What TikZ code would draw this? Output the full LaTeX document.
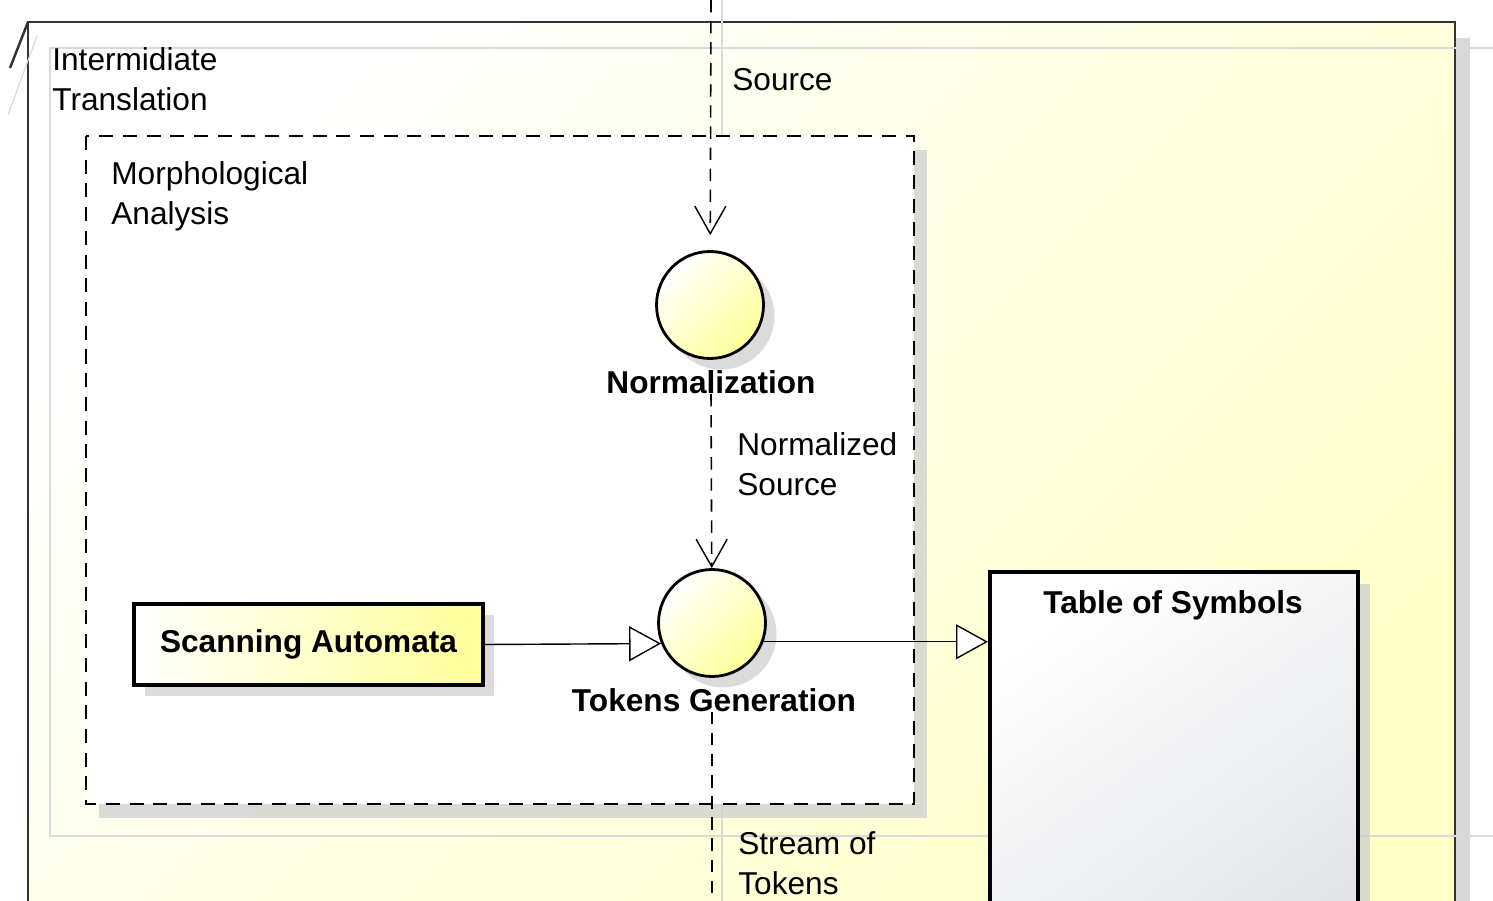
\documentclass[tikz,border=0pt]{standalone}
\usepackage{fontspec}
\setmainfont{Liberation Sans}
\usetikzlibrary{arrows.meta,shadows}

\definecolor{framefill}{HTML}{FFFFC8}
\definecolor{caseyellow}{HTML}{FFFF99}
\definecolor{tablegray}{HTML}{E2E4E7}
\definecolor{ghostgray}{HTML}{DADADA}

\begin{document}
\begin{tikzpicture}[x=0.02cm, y=-0.02cm,
		every node/.style={font=\fontsize{18}{22.8}\selectfont, inner sep=0pt},
		boldlbl/.style={font=\fontsize{18}{22.8}\selectfont\bfseries},
		softshadow/.style={drop shadow={shadow xshift=0.22cm, shadow yshift=-0.22cm, fill=black!20, opacity=0.7}},
		usecase/.style={circle, draw, line width=1.6pt, minimum size=2.14cm, top color=white, bottom color=caseyellow, shading angle=45, softshadow},
		flow/.style={dashed, dash pattern=on 7pt off 5pt, line width=0.9pt, -{Straight Barb[length=0.55cm, width=0.62cm, line width=0.8pt]}},
		assoc/.style={line width=0.8pt, -{Triangle[length=0.64cm, width=0.7cm, fill=white, line width=0.8pt]}},
		ghost/.style={draw=ghostgray, line width=0.7pt}]
		\clip (0,0) rectangle (1493,901);
		\useasboundingbox (0,0) rectangle (1493,901);

		% package frame
		\path[drop shadow={shadow xshift=0.3cm, shadow yshift=-0.32cm, fill=black!15, opacity=1},
			top color=white, bottom color=framefill, shading angle=45] (28,22) rectangle (1455,980);
		\draw[line width=1.2pt, draw=black!80] (28,980) -- (28,22) -- (1455,22) -- (1455,980);
		\draw[line width=1.4pt, draw=black!80] (28,22) -- (10,68);
		\draw[ghost] (37,36) -- (8,115);
		\draw[ghost] (1493,48) -- (50,48) -- (50,836) -- (1493,836);
		\draw[ghost] (722,0) -- (722,901);
		\node[anchor=north west, align=left] (framelbl) at (52,47) {Intermidiate\\Translation};

		% morphological analysis boundary
		\path[drop shadow={shadow xshift=0.26cm, shadow yshift=-0.28cm, fill=black!18, opacity=0.8}, fill=white] (86,136) rectangle (914,804);
		\draw[dashed, dash pattern=on 8pt off 5.5pt, line width=1.1pt] (86,136) rectangle (914,804);
		\node[anchor=north west, align=left] (morphlbl) at (111,161) {Morphological\\Analysis};

		% activities
		\node[usecase] (norm) at (710,305) {};
		\node[boldlbl] (normlbl) at (711,382) {Normalization};
		\node[usecase] (tokgen) at (712,623) {};
		\node[boldlbl] (toklbl) at (714,700) {Tokens Generation};

		\node[draw, line width=2.4pt, minimum width=6.98cm, minimum height=1.62cm, left color=white, right color=caseyellow, softshadow, boldlbl] (scan) at (308.5,644.5) {Scanning Automata};
		\node[draw, line width=2.4pt, anchor=north west, minimum width=7.36cm, minimum height=8cm, top color=white, bottom color=tablegray, shading angle=35, drop shadow={shadow xshift=0.24cm, shadow yshift=-0.24cm, fill=black!20, opacity=0.7}] (table) at (988,570) {};
		\node[boldlbl] (tablelbl) at (1173,605) {Table of Symbols};

		% flows
		\coordinate (srctop) at (711,0);
		\coordinate (streamend) at (712,901);
		\draw[flow, shorten >=0.3cm] (srctop) -- (norm);
		\node[anchor=west] (srclbl) at (732,80) {Source};
		\draw[flow] (normlbl.south) -- (tokgen);
		\node[anchor=north west, align=left] (normsrclbl) at (737,432) {Normalized\\Source};
		\draw[dashed, dash pattern=on 7pt off 5pt, line width=0.9pt] (toklbl.south -| streamend) -- (streamend);
		\node[anchor=north west, align=left] (streamlbl) at (738,831) {Stream of\\Tokens};

		\draw[assoc] (scan.east) -- (tokgen.202);
		\draw[assoc] (tokgen.340) -- (tokgen.340 -| table.west);
	\end{tikzpicture}
\end{document}
